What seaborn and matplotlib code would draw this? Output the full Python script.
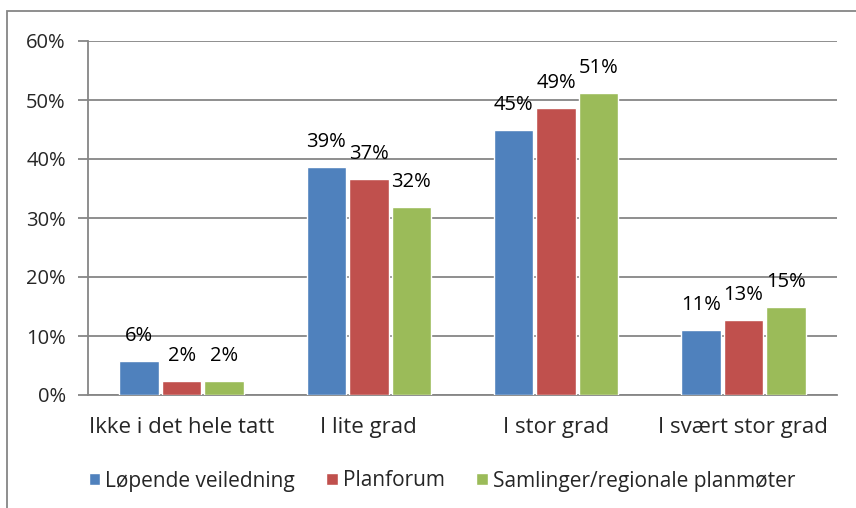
import pandas as pd
import seaborn as sns
import matplotlib.pyplot as plt
from matplotlib.patches import Rectangle

# data (fractions)
categories = ["Ikke i det hele tatt", "I lite grad", "I stor grad", "I svært stor grad"]
series = ["Løpende veiledning", "Planforum", "Samlinger/regionale planmøter"]
lopende = [0.058, 0.387, 0.449, 0.110]
planforum = [0.024, 0.366, 0.486, 0.127]
samlinger = [0.023, 0.319, 0.512, 0.149]
colors = ["#4F81BD", "#C0504D", "#9BBB59"]
y_ticks = [0, 0.1, 0.2, 0.3, 0.4, 0.5, 0.6]

df = pd.DataFrame({
    "kategori": categories * 3,
    "serie": [series[0]] * 4 + [series[1]] * 4 + [series[2]] * 4,
    "andel": lopende + planforum + samlinger,
})

sns.set_style("white")
plt.rcParams["font.family"] = ["Open Sans", "DejaVu Sans"]
FS_NUM = 14.5
FS_TXT = 16
FS_LEG = 15
grid_col = "#868686"

fig = plt.figure(figsize=(8.56, 5.08), dpi=100)
ax = fig.add_axes([88 / 856, 1 - 395 / 508, (837 - 88) / 856, (395 - 41) / 508])

sns.barplot(data=df, x="kategori", y="andel", hue="serie", hue_order=series,
            order=categories, palette=colors, width=0.68, gap=0.07,
            saturation=1, ax=ax, legend=True, zorder=3)

ax.set_xlim(-0.5, 3.5)
ax.set_ylim(0, 0.6)
ax.set_yticks(y_ticks)
ax.set_yticklabels([f"{int(round(t * 100))}%" for t in y_ticks], fontsize=FS_NUM)
ax.yaxis.grid(True, color=grid_col, linewidth=1.3, zorder=0)
ax.set_axisbelow(True)
ax.set_xlabel("")
ax.set_ylabel("")

# category boundaries get the tick marks, labels stay centered
ax.set_xticks([-0.5, 0.5, 1.5, 2.5, 3.5], minor=True)
ax.tick_params(axis="x", which="major", length=0, pad=16, labelsize=FS_TXT)
ax.tick_params(axis="x", which="minor", length=6, width=1.3, color=grid_col, direction="out")
ax.tick_params(axis="y", length=7, width=1.3, color=grid_col, pad=9, left=True)

for side in ["top", "right"]:
    ax.spines[side].set_visible(False)
for side in ["left", "bottom"]:
    ax.spines[side].set_color(grid_col)
    ax.spines[side].set_linewidth(1.3)

# value labels over each bar
for cont in ax.containers:
    for bar in cont:
        h = bar.get_height()
        ax.annotate(f"{int(round(h * 100))}%", (bar.get_x() + bar.get_width() / 2, h),
                    xytext=(0, 25), textcoords="offset pixels",
                    ha="center", va="center", fontsize=FS_NUM, color="black")

handles, labels = ax.get_legend_handles_labels()
ax.get_legend().remove()
fig.legend(handles, labels, loc="center", bbox_to_anchor=(442 / 856, 1 - 481 / 508),
           ncol=3, frameon=False, fontsize=FS_LEG, handlelength=0.55, handleheight=0.55,
           handletextpad=0.25, columnspacing=1.5)

# outer chart frame (cut off on the right and bottom)
fig.patches.append(Rectangle((7 / 856, -0.1), 1.2, 1.1 - 11 / 508,
                             transform=fig.transFigure, fill=False,
                             edgecolor=grid_col, linewidth=1.3))

fig.savefig("out.png", dpi=100)
